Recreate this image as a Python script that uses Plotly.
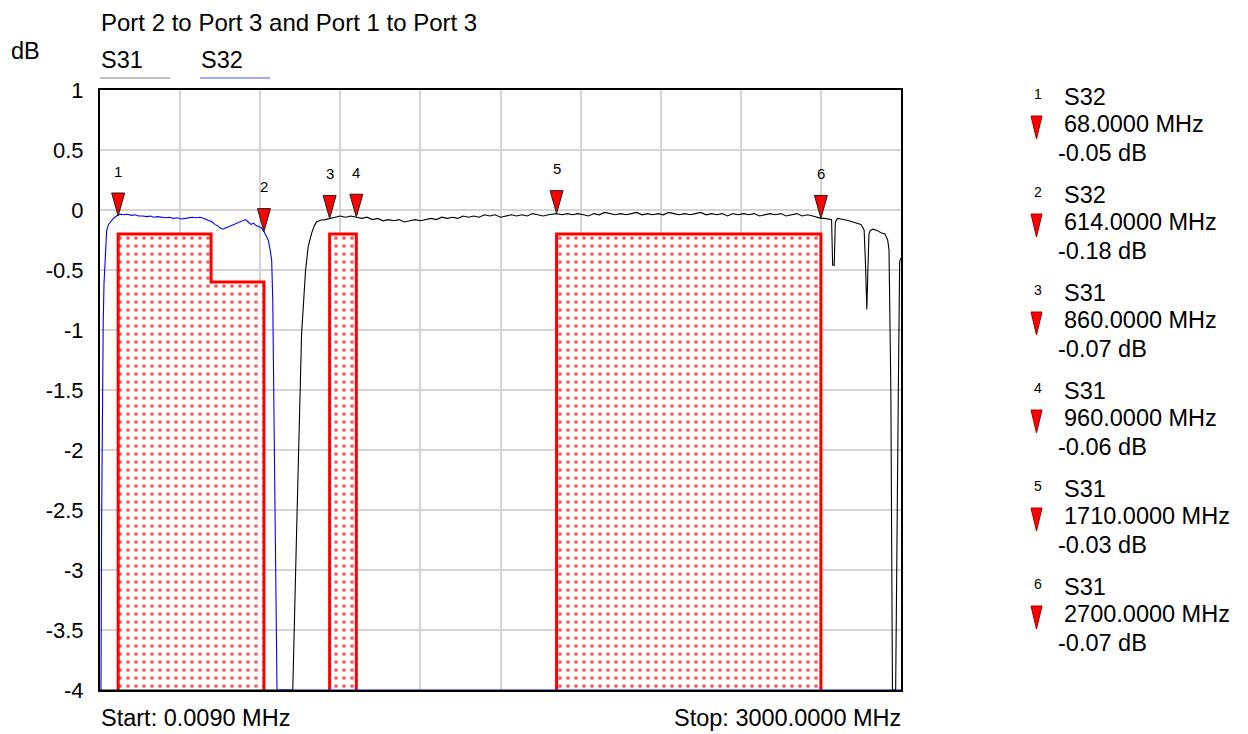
import plotly.graph_objects as go

# ---------------- data ----------------
s32_freq = [0, 3.7, 6, 8.7, 12, 15, 20, 25, 32, 38, 44, 50, 56, 62, 68, 80, 90, 100, 110, 120, 130, 145,
            160, 175, 190, 200, 215, 230, 245, 260, 275, 290, 305, 320, 335, 345, 360, 375, 390, 400, 410,
            420, 430, 440, 450, 460, 470, 480, 490, 500, 510, 520, 530, 545, 555, 565, 575, 585, 595,
            605, 614, 622, 630, 637, 643, 647, 652, 657, 663, 3000]
s32_db = [-4, -4, -2.6, -1.58, -0.95, -0.61, -0.35, -0.17, -0.12, -0.1, -0.08, -0.07, -0.06, -0.05, -0.04,
          -0.035, -0.04, -0.035, -0.04, -0.045, -0.04, -0.05, -0.05, -0.055, -0.05, -0.06, -0.055, -0.06,
          -0.065, -0.06, -0.07, -0.065, -0.075, -0.07, -0.065, -0.06, -0.065, -0.06, -0.07, -0.08, -0.085,
          -0.1, -0.12, -0.13, -0.15, -0.16, -0.15, -0.14, -0.13, -0.12, -0.11, -0.10, -0.09, -0.08, -0.1,
          -0.12, -0.11, -0.13, -0.14, -0.15, -0.18, -0.21, -0.25, -0.33, -0.42, -0.75, -1.58, -2.8, -4, -4]

s31_freq = [0, 722, 735, 743, 755, 770, 780, 793, 803, 811, 825, 843, 860, 880, 900, 920, 940, 960, 980,
            1000, 1020, 1040, 1060, 1080, 1100, 1120, 1140, 1160, 1180, 1200, 1220, 1240, 1260, 1280, 1300,
            1320, 1340, 1360, 1380, 1400, 1420, 1440, 1460, 1480, 1500, 1520, 1540, 1560, 1580, 1600, 1620,
            1640, 1660, 1680, 1700, 1710, 1730, 1750, 1770, 1790, 1810, 1830, 1850, 1870, 1890, 1910, 1930,
            1950, 1970, 1990, 2010, 2030, 2050, 2070, 2090, 2110, 2130, 2150, 2170, 2190, 2210, 2230, 2250,
            2270, 2290, 2310, 2330, 2350, 2370, 2390, 2410, 2430, 2450, 2470, 2490, 2510, 2530, 2550, 2570,
            2590, 2610, 2630, 2650, 2670, 2690, 2700, 2715, 2730, 2740, 2744, 2750, 2754, 2762, 2775, 2790,
            2805, 2820, 2835, 2850, 2858, 2862, 2867, 2872, 2876, 2880, 2885, 2895, 2910, 2925, 2940, 2950,
            2955, 2962, 2968, 2980, 2990, 2995, 3000]
s31_db = [-4, -4, -2.8, -2.0, -1.03, -0.5, -0.3, -0.19, -0.13, -0.1, -0.085, -0.08, -0.07, -0.06, -0.05,
          -0.06, -0.05, -0.06, -0.07, -0.06, -0.08, -0.07, -0.09, -0.08, -0.09, -0.08, -0.10, -0.09, -0.08,
          -0.09, -0.08, -0.07, -0.08, -0.06, -0.07, -0.06, -0.07, -0.05, -0.06, -0.05, -0.06, -0.04, -0.05,
          -0.04, -0.06, -0.05, -0.04, -0.05, -0.04, -0.05, -0.03, -0.04, -0.05, -0.04, -0.03, -0.03, -0.04,
          -0.03, -0.04, -0.03, -0.04, -0.05, -0.03, -0.04, -0.02, -0.03, -0.04, -0.03, -0.04, -0.03, -0.02,
          -0.04, -0.03, -0.04, -0.03, -0.04, -0.02, -0.03, -0.04, -0.03, -0.04, -0.03, -0.02, -0.04, -0.03,
          -0.04, -0.03, -0.05, -0.03, -0.04, -0.03, -0.04, -0.03, -0.05, -0.04, -0.03, -0.04, -0.03, -0.05,
          -0.04, -0.03, -0.05, -0.04, -0.05, -0.06, -0.07, -0.07, -0.075, -0.08, -0.46, -0.46, -0.1, -0.07,
          -0.075, -0.08, -0.09, -0.1, -0.11, -0.12, -0.15, -0.17, -0.45, -0.83, -0.5, -0.2, -0.17, -0.16,
          -0.17, -0.19, -0.2, -0.25, -0.33, -1.5, -4, -4, -1.5, -0.43, -0.40]

marker_num = ["1", "2", "3", "4", "5", "6"]
marker_trace = ["S32", "S32", "S31", "S31", "S31", "S31"]
marker_freq = [68, 614, 860, 960, 1710, 2700]
marker_db = [-0.05, -0.18, -0.07, -0.06, -0.03, -0.07]

mask_x = [[68, 68, 416, 416, 614, 614], [860, 860, 960, 960], [1710, 1710, 2700, 2700]]
mask_y = [[-4, -0.2, -0.2, -0.6, -0.6, -4], [-4, -0.2, -0.2, -4], [-4, -0.2, -0.2, -4]]

y_ticks = [1, 0.5, 0, -0.5, -1, -1.5, -2, -2.5, -3, -3.5, -4]
y_ticktext = ["1", "0.5", "0", "-0.5", "-1", "-1.5", "-2", "-2.5", "-3", "-3.5", "-4"]

title_text = "Port 2 to Port 3 and Port 1 to Port 3"
start_text = "Start: 0.0090 MHz"
stop_text = "Stop: 3000.0000 MHz"

# ---------------- layout geometry ----------------
W_, H_ = 1248, 734
L, T, PW, PH = 100, 90, 801, 600
FONT = "Liberation Sans, Arial, sans-serif"
TXT = 23.5


def pxx(x):
    return (x - L) / PW


def pyy(y):
    return (T + PH - y) / PH


fig = go.Figure()

# masks
for mx, my in zip(mask_x, mask_y):
    fig.add_trace(go.Scatter(
        x=mx, y=my, mode="lines", fill="toself", line=dict(width=0, color="red"),
        fillcolor="rgba(0,0,0,0)",
        fillpattern=dict(shape=".", fgcolor="#ff3838", bgcolor="#ffffff", size=8, solidity=0.17, fgopacity=0.85),
        hoverinfo="skip", showlegend=False))
    fig.add_trace(go.Scatter(
        x=mx, y=my, mode="lines", line=dict(width=3, color="#ff0000"),
        hoverinfo="skip", showlegend=False))

fig.add_trace(go.Scatter(x=s31_freq, y=s31_db, mode="lines", line=dict(color="black", width=1.1),
                         name="S31", showlegend=False))
fig.add_trace(go.Scatter(x=s32_freq, y=s32_db, mode="lines", line=dict(color="#0000ff", width=1.1),
                         name="S32", showlegend=False))

shapes = []
annotations = []

# in-plot markers
for n, f, d in zip(marker_num, marker_freq, marker_db):
    shapes.append(dict(type="path", xref="x", yref="y", xsizemode="pixel", ysizemode="pixel",
                       xanchor=f, yanchor=d, path="M-6.5,23 L6.5,23 L0,0 Z",
                       fillcolor="#ff0000", line=dict(color="#202020", width=1), layer="above"))
    annotations.append(dict(x=f, y=d, xref="x", yref="y", text=n, showarrow=False, yshift=45,
                            font=dict(family=FONT, size=15, color="black"), xanchor="center", yanchor="middle"))

# right-side marker list
for k, (n, tr, f, d) in enumerate(zip(marker_num, marker_trace, marker_freq, marker_db)):
    y0 = 97 + 98 * k
    annotations.append(dict(x=pxx(1037.5), y=pyy(y0 - 3), xref="paper", yref="paper", text=n, showarrow=False,
                            font=dict(family=FONT, size=14, color="black"), xanchor="center", yanchor="middle"))
    annotations.append(dict(x=pxx(1062), y=pyy(y0), xref="paper", yref="paper", text=tr, showarrow=False,
                            font=dict(family=FONT, size=TXT, color="black"), xanchor="left", yanchor="middle"))
    annotations.append(dict(x=pxx(1062), y=pyy(y0 + 27), xref="paper", yref="paper",
                            text=f"{f:.4f} MHz", showarrow=False,
                            font=dict(family=FONT, size=TXT, color="black"), xanchor="left", yanchor="middle"))
    annotations.append(dict(x=pxx(1056), y=pyy(y0 + 56), xref="paper", yref="paper",
                            text=f"{d:.2f} dB", showarrow=False,
                            font=dict(family=FONT, size=TXT, color="black"), xanchor="left", yanchor="middle"))
    shapes.append(dict(type="path", xref="paper", yref="paper", xsizemode="pixel", ysizemode="pixel",
                       xanchor=pxx(1036.5), yanchor=pyy(y0 + 42), path="M-5.5,23 L5.5,23 L0,0 Z",
                       fillcolor="#ff0000", line=dict(color="#a00000", width=1)))

# header texts
annotations.append(dict(x=pxx(99), y=pyy(22), xref="paper", yref="paper", text=title_text, showarrow=False,
                        font=dict(family=FONT, size=24, color="black"), xanchor="left", yanchor="middle"))
annotations.append(dict(x=pxx(9), y=pyy(51), xref="paper", yref="paper", text="dB", showarrow=False,
                        font=dict(family=FONT, size=TXT, color="black"), xanchor="left", yanchor="middle"))
for lab, x0, col in [("S31", 100, "#808080"), ("S32", 200, "#5050ff")]:
    annotations.append(dict(x=pxx(x0 - 1), y=pyy(60), xref="paper", yref="paper", text=lab, showarrow=False,
                            font=dict(family=FONT, size=TXT, color="black"), xanchor="left", yanchor="middle"))
    shapes.append(dict(type="line", xref="paper", yref="paper", x0=pxx(x0), x1=pxx(x0 + 70),
                       y0=pyy(78), y1=pyy(78), line=dict(color=col, width=1.2)))

annotations.append(dict(x=pxx(99), y=pyy(718), xref="paper", yref="paper", text=start_text, showarrow=False,
                        font=dict(family=FONT, size=TXT, color="black"), xanchor="left", yanchor="middle"))
annotations.append(dict(x=pxx(903), y=pyy(718), xref="paper", yref="paper", text=stop_text, showarrow=False,
                        font=dict(family=FONT, size=TXT, color="black"), xanchor="right", yanchor="middle"))

fig.update_layout(
    width=W_, height=H_, autosize=False,
    margin=dict(l=L, r=W_ - L - PW, t=T, b=H_ - T - PH, pad=0),
    paper_bgcolor="white", plot_bgcolor="white",
    showlegend=False,
    shapes=shapes, annotations=annotations,
    xaxis=dict(range=[0, 3000], tick0=0, dtick=300, showticklabels=False, ticks="",
               showgrid=True, gridcolor="#d4d4d4", gridwidth=1.5, zeroline=False,
               showline=True, linecolor="black", linewidth=2, mirror=True, layer="below traces", fixedrange=True),
    yaxis=dict(range=[-4, 1], tickvals=y_ticks, ticktext=y_ticktext, ticks="",
               tickfont=dict(family=FONT, size=22, color="black"), ticklabelstandoff=10,
               showgrid=True, gridcolor="#d4d4d4", gridwidth=1.5, zeroline=False,
               showline=True, linecolor="black", linewidth=2, mirror=True, layer="below traces", fixedrange=True),
)

fig.write_html("out.html", config={"displayModeBar": False},
               post_script="document.body.style.margin='0px';document.body.style.overflow='hidden';")
